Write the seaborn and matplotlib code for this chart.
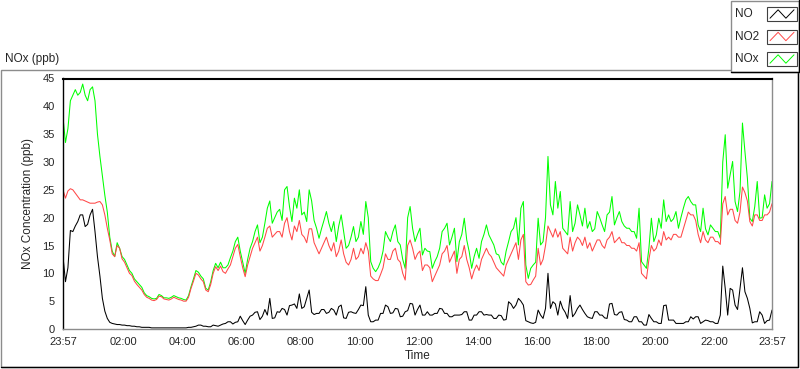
import numpy as np
import pandas as pd
import matplotlib
matplotlib.use("Agg")
import matplotlib.pyplot as plt
import matplotlib.dates as mdates
import seaborn as sns
from matplotlib.lines import Line2D
from matplotlib.patches import Rectangle

# ---------------------------------------------------------
# DATA (ppb, one reading every 5 min from 23:57 to 23:57)
# each row = one hour
# ---------------------------------------------------------

nox = [38, 33.5, 36, 41, 42, 43, 42, 42.5, 44, 42, 41, 43,
       43.5, 41, 35, 31, 27.5, 24, 21, 16.5, 14, 13, 15.5, 14.5,
       13, 12.5, 11.5, 10.5, 10, 9, 8.5, 8, 7.5, 6.5, 6, 5.8,
       5.5, 5.4, 5.5, 6.2, 6, 5.6, 5.6, 5.5, 5.7, 6, 5.8, 5.6,
       5.5, 5.3, 5.2, 6, 7.6, 9, 10.5, 10.2, 9.5, 9, 7.3, 7,
       8.5, 10.5, 11.8, 11, 12, 11, 11, 11.5, 12.8, 14, 15.7, 16.5,
       14, 12, 10, 12.5, 14.5, 15.7, 17.5, 18.7, 15.5, 16.5, 19, 21.7,
       23, 19, 20, 21, 21.5, 19.5, 25, 25.6, 22, 19.3, 23.5, 21.7,
       25, 20.5, 21, 19.3, 25, 23, 19.5, 18.1, 16.3, 18, 19.5, 21.1,
       19, 17.5, 19.3, 15.7, 18.5, 20.5, 17.5, 14.5, 15, 16.5, 18.4, 15.7,
       16.5, 19.3, 17, 22.9, 20, 12.1, 10.9, 10.3, 11, 12.1, 14, 17.5,
       16.5, 15.7, 17.5, 18.7, 15.7, 15.1, 12.5, 10.9, 20, 22, 18.1, 15.7,
       17, 18.1, 13.3, 14.5, 14, 13.9, 10.9, 12.1, 13, 14.5, 17.5, 18.1,
       19, 15.1, 16.5, 18.1, 12.1, 15.7, 17, 19.9, 16, 13.9, 10.9, 13,
       14.5, 12.7, 15.7, 17, 18.7, 16.9, 16, 15.1, 13.5, 13.3, 12, 11.5,
       14, 15.7, 17.5, 18.1, 20, 15.1, 21.7, 22.9, 11.5, 9.1, 10.9, 11.5,
       12, 19.9, 15.1, 15.7, 20, 31, 22.3, 20.5, 26.5, 21.7, 24.7, 18.1,
       17.5, 16.9, 22.9, 17.5, 19, 22.3, 20.5, 18.5, 21.7, 18.1, 19.3, 17.5,
       18, 21.1, 20, 18.7, 17.5, 20.5, 21, 23.8, 18.7, 20, 21.1, 19.3,
       18.5, 18.1, 18.1, 17.5, 17.5, 16.3, 21.7, 12.1, 11.5, 10.9, 14.5, 19.9,
       15.7, 16.9, 19.9, 18.1, 23.2, 19.3, 20.5, 19.3, 19.8, 21.1, 18.1, 20,
       21.7, 23.2, 23.8, 22.9, 22.3, 22.3, 18.7, 17.5, 21.7, 18, 16.9, 18.7,
       18.1, 17.5, 17.5, 16.3, 30, 34.9, 25.3, 27.7, 30.1, 22.9, 21.1, 24.7,
       37, 31.9, 27.1, 19.9, 19.3, 22, 26.5, 19.9, 20, 24.1, 21.7, 22.5,
       26.5]

no2 = [25, 23.5, 24.8, 25.2, 25, 24.4, 23.8, 23.2, 23.2, 23, 22.8, 22.6,
       22.6, 22.6, 22.8, 22.9, 22.3, 20.5, 18.1, 16, 13.5, 13, 15, 14.5,
       12.6, 12, 11, 10, 9.6, 8.6, 8, 7.5, 7, 6.2, 5.7, 5.5,
       5.2, 5.1, 5.3, 5.9, 5.8, 5.4, 5.3, 5.2, 5.4, 5.7, 5.5, 5.3,
       5.2, 5, 5, 5.7, 7.3, 8.6, 10, 9.7, 9, 8.5, 7, 6.7,
       8, 10, 11.2, 10.5, 11.3, 10.3, 10, 10.8, 11.5, 13, 14.5, 15.2,
       13, 11, 9.4, 11.5, 13, 14.5, 15.5, 16.5, 14, 15, 16.5, 18.1,
       18.5, 16.5, 17, 17.5, 17.5, 16.5, 19, 20, 17.5, 16, 18.5, 17.5,
       19.5, 17, 16.5, 15.5, 18, 18, 15.5, 14.5, 13.5, 14.5, 15.5, 16.5,
       15, 14, 15.5, 13, 14, 16, 13.5, 12, 11.5, 12.5, 14.5, 12.5,
       13, 14.5, 13.5, 15.5, 14, 9.5, 9, 8.7, 8.7, 9.8, 11, 13.5,
       12.5, 12.5, 14, 14.5, 12.5, 12, 10, 8.8, 15, 16, 14.5, 12.5,
       13.5, 14, 10.5, 11.5, 11.5, 11, 8.5, 9.5, 10.5, 11.5, 13.5, 14,
       15, 12, 13, 14, 10, 12.5, 13, 15, 12.5, 11, 9, 10.5,
       11.5, 10.5, 12.5, 13.5, 14.5, 13.5, 13, 12, 11, 10.5, 10, 9.5,
       11.5, 12.5, 13.5, 14.5, 15.5, 12.5, 16, 17, 8.5, 7.9, 8, 8.8,
       9.5, 14.5, 11.5, 12.5, 15, 18.5, 17.5, 16.5, 18, 16.5, 17.5, 14.5,
       14, 13.5, 16.5, 14, 15.5, 16.5, 16, 15, 16.5, 14.5, 15.5, 14,
       15, 16, 16, 15, 14.5, 16, 16.5, 17.5, 15.5, 16, 16.5, 15.5,
       15.5, 15, 15, 14.5, 14.5, 14, 15.5, 10, 9.5, 9, 12.5, 15,
       14, 14.5, 16, 15, 17.5, 16, 16.5, 16, 17, 17, 16.5, 16.5,
       18, 19.5, 21, 20.5, 20.5, 19.5, 17, 15.5, 17.5, 16, 15.5, 16.5,
       16.5, 15.7, 15.7, 15.2, 22.5, 23.8, 20.5, 21.5, 21.5, 19.5, 19, 21,
       25.5, 24.5, 23, 19.3, 18.5, 20.5, 20.5, 19.5, 19.5, 20.5, 20.5, 21,
       22.5]

no = [13, 8.5, 11, 17.7, 17.5, 18.5, 19.3, 20.5, 20.5, 18.4, 18.8, 20.5,
      21.5, 17.5, 13, 9.5, 5.5, 3.2, 1.9, 1.2, 1.0, 0.9, 0.8, 0.8,
      0.7, 0.7, 0.6, 0.6, 0.5, 0.5, 0.4, 0.4, 0.3, 0.3, 0.3, 0.3,
      0.2, 0.2, 0.2, 0.2, 0.2, 0.2, 0.2, 0.2, 0.2, 0.2, 0.2, 0.2,
      0.2, 0.2, 0.2, 0.3, 0.3, 0.4, 0.5, 0.7, 0.7, 0.5, 0.5, 0.4,
      0.4, 0.7, 0.6, 0.5, 0.7, 0.9, 1.0, 1.3, 1.3, 0.9, 1.2, 1.3,
      2.3, 1.5, 0.8, 1.6, 2.3, 2.5, 3.0, 3.1, 1.7, 2.3, 3.5, 2.5,
      5.5, 1.9, 2.0, 3.1, 3.0, 3.7, 3.5, 2.5, 4.2, 4.3, 4.5, 3.7,
      6.3, 3.7, 4.0, 5.5, 7.0, 3.0, 2.6, 2.8, 2.8, 3.5, 3.5, 2.8,
      3.0, 3.7, 3.4, 2.5, 4.0, 4.3, 2.0, 1.9, 3.0, 3.1, 2.9, 2.8,
      3.5, 4.3, 4.2, 7.6, 2.5, 1.3, 1.3, 1.6, 1.6, 2.8, 2.8, 4.3,
      4.0, 2.8, 2.9, 3.7, 3.6, 2.2, 2.3, 3.1, 3.3, 4.6, 4.5, 2.5,
      3.5, 4.3, 2.5, 2.5, 3.1, 2.5, 2.5, 2.8, 2.8, 3.7, 3.6, 2.8,
      2.8, 2.2, 2.2, 2.5, 2.5, 2.5, 2.6, 3.1, 3.1, 1.6, 1.6, 2.5,
      2.5, 3.1, 3.1, 2.5, 2.6, 2.5, 2.5, 1.9, 1.9, 2.5, 2.4, 1.6,
      1.7, 4.9, 4.5, 3.7, 4.3, 5.5, 5.0, 4.3, 1.5, 1.3, 1.1, 1.0,
      1.2, 3.4, 2.5, 1.9, 3.7, 10.0, 3.7, 4.9, 4.5, 2.5, 5.0, 3.7,
      3.0, 1.9, 6.0, 2.2, 2.8, 3.7, 4.3, 3.5, 2.8, 2.2, 2.0, 1.9,
      3.1, 3.1, 2.5, 2.5, 2.0, 1.9, 4.5, 4.6, 2.6, 2.5, 3.0, 3.1,
      1.7, 1.6, 1.3, 1.3, 2.2, 2.2, 1.3, 1.3, 0.7, 0.7, 2.6, 1.9,
      1.3, 1.3, 1.0, 1.0, 4.2, 4.3, 1.6, 1.6, 1.6, 1.0, 1.0, 1.0,
      1.0, 1.3, 1.3, 2.2, 1.8, 2.2, 2.2, 1.0, 1.3, 1.6, 1.5, 1.3,
      1.3, 1.0, 1.0, 2.5, 11.3, 7.3, 2.5, 7.3, 7.0, 4.3, 3.5, 7.3,
      11.0, 6.7, 5.5, 3.7, 1.1, 1.3, 1.3, 3.1, 2.5, 1.0, 1.5, 1.6,
      3.4]

species = ["NO", "NO2", "NOx"]
colors = {"NO": "#000000", "NO2": "#ff4848", "NOx": "#00ff00"}

times = pd.date_range("2015-06-01 23:57", periods=len(nox), freq="5min")

df = pd.DataFrame({"Time": times, "NO": no, "NO2": no2, "NOx": nox})
df = df.melt(id_vars="Time", var_name="Species", value_name="ppb")

# ---------------------------------------------------------
# PLOT
# ---------------------------------------------------------

sns.set_style("white")
plt.rcParams["font.family"] = ["Liberation Sans", "DejaVu Sans"]

W, H = 800, 369
fig = plt.figure(figsize=(W / 100, H / 100), dpi=100)
ax = fig.add_axes([63 / W, 40 / H, 709 / W, 250.5 / H])

sns.lineplot(data=df, x="Time", y="ppb", hue="Species",
             hue_order=["NOx", "NO2", "NO"], palette=colors,
             estimator=None, linewidth=0.75, legend=False, ax=ax)

ax.set_xlim(times[0], times[-1])
ax.set_ylim(0, 45)
ax.set_yticks(range(0, 46, 5))

major = [times[0]] + list(pd.date_range("2015-06-02 02:00", "2015-06-02 22:00", freq="2h")) + [times[-1]]
minor = pd.date_range("2015-06-02 00:00", "2015-06-02 23:36", freq="24min")
ax.set_xticks(major)
ax.set_xticks(minor, minor=True)
ax.xaxis.set_major_formatter(mdates.DateFormatter("%H:%M"))

ax.tick_params(axis="both", which="major", direction="out", length=4,
               width=0.8, color="black", labelsize=8, pad=2)
ax.tick_params(axis="x", which="minor", direction="out", length=3,
               width=0.8, color="black")

ax.spines["top"].set_color("black")
ax.spines["top"].set_linewidth(1.5)
ax.spines["left"].set_color("black")
ax.spines["left"].set_linewidth(1.0)
for side in ["bottom", "right"]:
    ax.spines[side].set_color("#8c8c8c")
    ax.spines[side].set_linewidth(1.0)

ax.set_xlabel("Time", fontsize=8.5, labelpad=2)
ax.set_ylabel("NOx Concentration (ppb)", fontsize=8.5, labelpad=6)

fig.text(5 / W, 1 - 59 / H, "NOx (ppb)", va="center", ha="left", fontsize=8.5)

# outer frame of the chart
fig.add_artist(Rectangle((1 / W, 2 / H), 797 / W, (367 - 69.5) / H,
                         transform=fig.transFigure, fill=False,
                         edgecolor="#8c8c8c", linewidth=1.0, zorder=0))
fig.add_artist(Line2D([798 / W, 798 / W, 1 / W], [1 - 69.5 / H, 2 / H, 2 / H],
                      transform=fig.transFigure, color="black", linewidth=1.0, zorder=0))

# legend box, LabVIEW style (label left, zigzag icon in a box on the right)
fig.add_artist(Rectangle((730.5 / W, 1 - 72 / H), 68 / W, 71.5 / H,
                         transform=fig.transFigure, facecolor="white",
                         edgecolor="#8c8c8c", linewidth=1.0, zorder=5))
fig.add_artist(Line2D([798.5 / W, 798.5 / W, 730.5 / W], [1, 1 - 72 / H, 1 - 72 / H],
                      transform=fig.transFigure, color="black", linewidth=1.0, zorder=5))

zig_x = np.array([0.1, 0.37, 0.63, 0.9])
zig_y = np.array([0.2, 0.8, 0.2, 0.8])
for i, s in enumerate(species):
    yc = 14 + 22.5 * i
    fig.text(735 / W, 1 - yc / H, s, va="center", ha="left", fontsize=8.5, zorder=6)
    fig.add_artist(Rectangle((767 / W, 1 - (yc + 7) / H), 30 / W, 14 / H,
                             transform=fig.transFigure, facecolor="white",
                             edgecolor="#404040", linewidth=0.8, zorder=6))
    fig.add_artist(Line2D((767 + 30 * zig_x) / W, 1 - (yc + 7 - 14 * zig_y) / H,
                          transform=fig.transFigure, color=colors[s],
                          linewidth=0.7, zorder=7))

fig.savefig("out.png", dpi=100)
